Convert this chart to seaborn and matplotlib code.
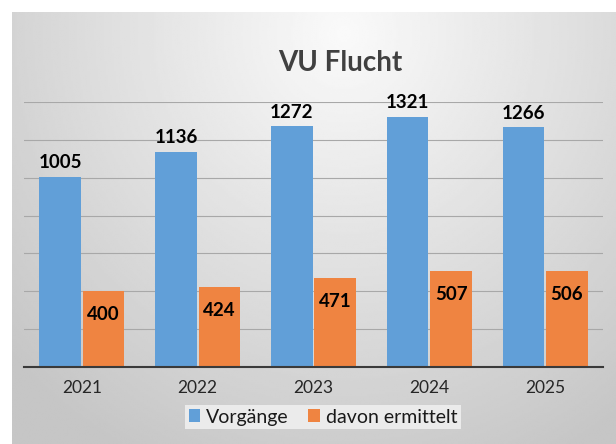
"""
VU Flucht - Vorgaenge und davon ermittelt, 2021-2025
grouped bars drawn with seaborn
"""

import numpy as np
import pandas as pd
import seaborn as sns
import matplotlib.pyplot as plt

years = ["2021", "2022", "2023", "2024", "2025"]
vorgaenge = [1005, 1136, 1272, 1321, 1266]
ermittelt = [400, 424, 471, 507, 506]
series_names = ["Vorgänge", "davon ermittelt"]

df = pd.DataFrame({
    "Jahr": years * 2,
    "Anzahl": vorgaenge + ermittelt,
    "Art": [series_names[0]] * len(years) + [series_names[1]] * len(years),
})

plt.rcParams["font.family"] = ["Lato", "DejaVu Sans"]

fig = plt.figure(figsize=(6.16, 4.44), dpi=100)
fig.patch.set_facecolor("white")

# gray gradient background of the chart area
bg = fig.add_axes([12 / 616, 0, 1 - 12 / 616, 432 / 444])
xx, yy = np.meshgrid(np.linspace(0, 1, 300), np.linspace(0, 1, 220))
d = np.sqrt(((xx - 0.55) / 0.75) ** 2 + ((yy - 0.05) / 1.1) ** 2)
shade = np.clip(250 - 52 * np.clip(d, 0, 1), 0, 255) / 255
bg.imshow(shade, cmap="gray", vmin=0, vmax=1, aspect="auto",
          extent=[0, 1, 1, 0], interpolation="bilinear")
bg.set_xlim(0, 1)
bg.set_ylim(1, 0)
bg.axis("off")

ax = fig.add_axes([24 / 616, 77 / 444, 579 / 616, 265 / 444])
ax.patch.set_alpha(0)

sns.barplot(data=df, x="Jahr", y="Anzahl", hue="Art",
            palette=["#619fd8", "#ef8441"], width=0.75, gap=0.04,
            saturation=1, ax=ax, legend=True)

ax.set_xlim(-0.5, 4.5)
ax.set_ylim(0, 1400)
ax.set_yticks(range(0, 1401, 200))
ax.set_yticklabels([])
ax.grid(axis="y", color="#a8a8a8", linewidth=0.8)
ax.set_axisbelow(True)
ax.tick_params(axis="both", length=0)
ax.tick_params(axis="x", labelsize=12.5, labelcolor="#262626", pad=9)
for side in ["left", "right", "top"]:
    ax.spines[side].set_visible(False)
ax.spines["bottom"].set_color("#3a3a3a")
ax.spines["bottom"].set_linewidth(1.5)
ax.set_xlabel("")
ax.set_ylabel("")

ax.bar_label(ax.containers[0], fontsize=13.5, fontweight="bold",
             color="black", padding=4, clip_on=False)
ax.bar_label(ax.containers[1], fontsize=13.5, fontweight="bold",
             color="black", padding=-23)

handles, labels = ax.get_legend_handles_labels()
ax.get_legend().remove()
fig.legend(handles, labels, loc="center", bbox_to_anchor=(323 / 616, 1 - 417 / 444),
           ncol=2, fontsize=14, frameon=True, facecolor="#ebebeb",
           edgecolor="none", fancybox=False, framealpha=1,
           handlelength=0.6, handleheight=0.6, handletextpad=0.3,
           columnspacing=1.0, borderpad=0.2, labelcolor="#1a1a1a")

fig.text(340 / 616, 1 - 63 / 444, "VU Flucht", ha="center", va="center",
         fontsize=20, fontweight="bold", color="#404040")

plt.savefig("out.png", dpi=100)
plt.clf()
